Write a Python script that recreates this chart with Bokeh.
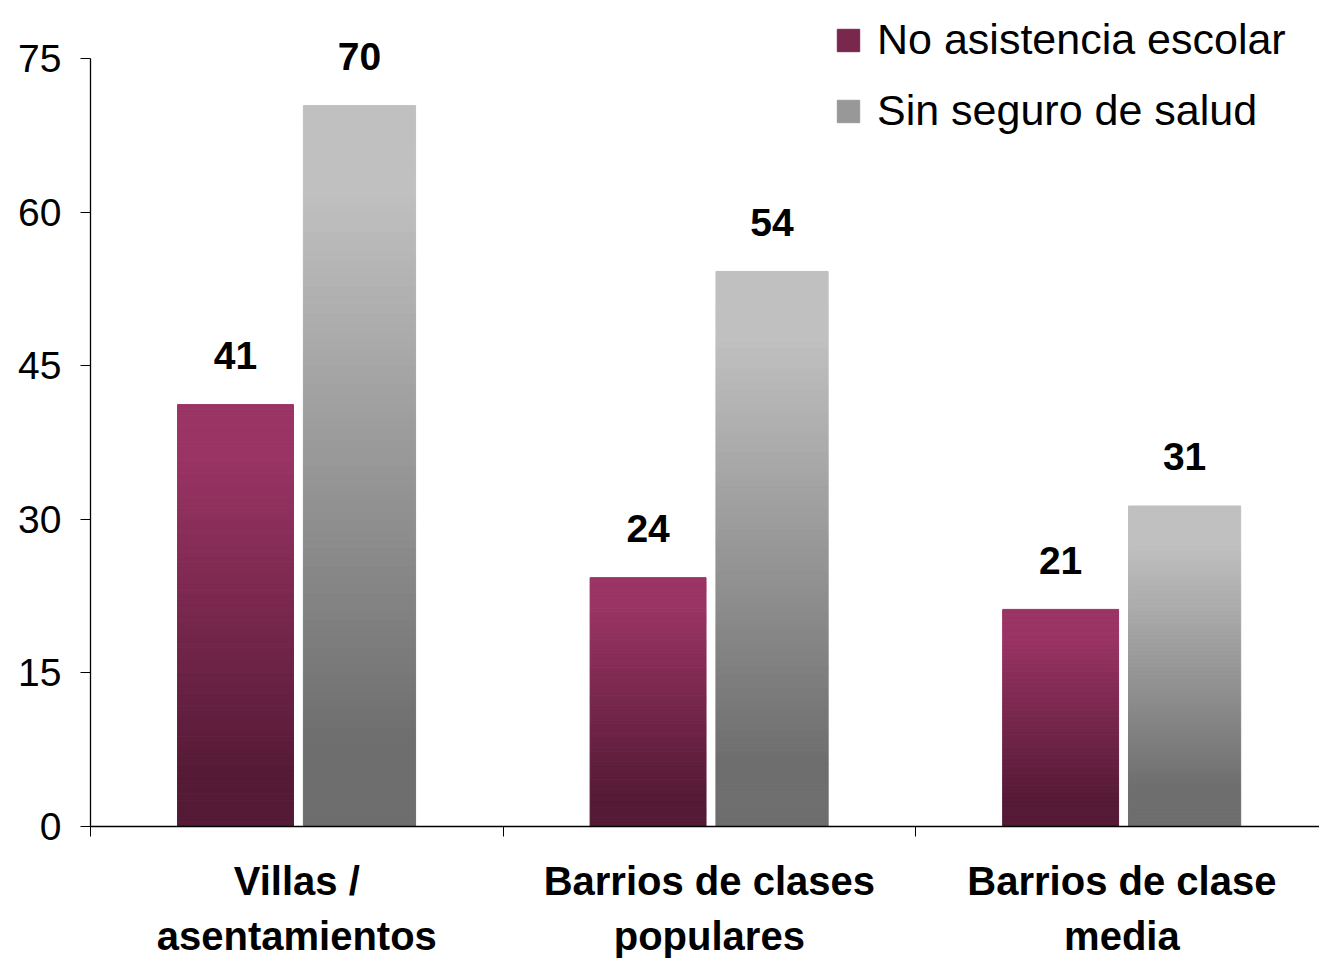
from bokeh.plotting import figure
from bokeh.models import (ColumnDataSource, Range1d, LinearAxis, FixedTicker,
                          Legend, LegendItem)
from bokeh.core.properties import value
from bokeh.embed import file_html
from bokeh.resources import INLINE

# ---------------- data ----------------
cat_line1 = ["Villas /", "Barrios de clases", "Barrios de clase"]
cat_line2 = ["asentamientos", "populares", "media"]
series_names = ["No asistencia escolar", "Sin seguro de salud"]
no_asistencia = [41.2, 24.3, 21.2]
sin_seguro = [70.4, 54.2, 31.3]
y_ticks = [0, 15, 30, 45, 60, 75]

# ---------------- styles ----------------
FONT = "Liberation Sans"
purple_top, purple_bot = (0x9A, 0x34, 0x64), (0x55, 0x1A, 0x36)
gray_top, gray_bot = (0xC0, 0xC0, 0xC0), (0x6E, 0x6E, 0x6E)
K = 80
bar_widths = [0.281, 0.272]
offsets = [-0.1485, 0.152]
n = len(cat_line1)

def mix(c0, c1, t):
    return "#%02x%02x%02x" % tuple(int(round(a + (b - a) * t)) for a, b in zip(c0, c1))

def grad_t(frac):
    t = (frac - 0.12) / (0.88 - 0.12)
    return min(1.0, max(0.0, t))

p = figure(width=1319, height=974, output_backend="svg", toolbar_location=None,
           x_range=Range1d(0, 2.979), y_range=Range1d(0, 80.66),
           min_border_left=90, min_border_right=0, min_border_top=0, min_border_bottom=148,
           x_axis_type=None, y_axis_type=None)
p.outline_line_color = None
p.xgrid.visible = False
p.ygrid.visible = False
p.background_fill_color = "white"
p.border_fill_color = "white"

renderers = []
for s, (vals, ctop, cbot) in enumerate([(no_asistencia, purple_top, purple_bot),
                                         (sin_seguro, gray_top, gray_bot)]):
    xs, bottoms, tops, colors = [], [], [], []
    for i, v in enumerate(vals):
        for k in range(K):
            xs.append(i + 0.5 + offsets[s])
            bottoms.append(v * k / K)
            tops.append(v * (k + 1) / K)
            colors.append(mix(cbot, ctop, grad_t((k + 0.5) / K)))
    src = ColumnDataSource(dict(x=xs, bottom=bottoms, top=tops, color=colors))
    r = p.vbar(x="x", bottom="bottom", top="top", width=bar_widths[s], source=src,
               fill_color="color", line_color="color", line_width=1)
    renderers.append(r)

    lab = ColumnDataSource(dict(x=[i + 0.5 + offsets[s] for i in range(len(vals))],
                                y=vals, t=["%.0f" % v for v in vals]))
    p.text(x="x", y="y", text="t", source=lab, text_align="center",
           text_baseline="alphabetic", y_offset=-49,
           text_font=value(FONT), text_font_style="bold", text_font_size="39px",
           text_color="black")

# y axis
yax = LinearAxis(bounds=(0, 75), ticker=FixedTicker(ticks=y_ticks))
yax.axis_line_color = "black"
yax.axis_line_width = 1.3
yax.major_tick_line_color = "black"
yax.major_tick_out = 10
yax.major_tick_in = 0
yax.minor_tick_line_color = None
yax.major_label_standoff = 19
yax.major_label_text_font = FONT
yax.major_label_text_font_size = "39px"
yax.major_label_text_color = "black"
p.add_layout(yax, "left")

# x axis: boundary ticks as minor ticks, first label line at group centres
xax = LinearAxis(ticker=FixedTicker(ticks=[i + 0.5 for i in range(n)],
                                    minor_ticks=[i for i in range(n)]),
                 major_label_overrides={i + 0.5: t for i, t in enumerate(cat_line1)})
xax.axis_line_color = "black"
xax.axis_line_width = 1.3
xax.major_tick_line_color = None
xax.major_tick_out = 0
xax.major_tick_in = 0
xax.minor_tick_line_color = "black"
xax.minor_tick_out = 10
xax.minor_tick_in = 0
xax.major_label_standoff = 22
xax.major_label_text_font = FONT
xax.major_label_text_font_style = "bold"
xax.major_label_text_font_size = "40px"
xax.major_label_text_color = "black"
p.add_layout(xax, "below")

ax2 = LinearAxis(ticker=FixedTicker(ticks=[i + 0.5 for i in range(n)]),
                 major_label_overrides={i + 0.5: t for i, t in enumerate(cat_line2)})
ax2.axis_line_color = None
ax2.major_tick_line_color = None
ax2.minor_tick_line_color = None
ax2.major_tick_out = 0
ax2.major_tick_in = 0
ax2.major_label_standoff = 8
ax2.major_label_text_font = FONT
ax2.major_label_text_font_style = "bold"
ax2.major_label_text_font_size = "40px"
ax2.major_label_text_color = "black"
p.add_layout(ax2, "below")

legend = Legend(items=[LegendItem(label=series_names[0], renderers=[renderers[0]], index=K // 2),
                       LegendItem(label=series_names[1], renderers=[renderers[1]], index=K // 2)],
                location=(744, 691), orientation="vertical")
legend.label_text_font = FONT
legend.label_text_font_size = "43px"
legend.label_text_color = "black"
legend.glyph_width = 28
legend.glyph_height = 28
legend.label_standoff = 15
legend.spacing = 22
legend.padding = 0
legend.margin = 0
legend.border_line_color = None
legend.background_fill_alpha = 0
p.add_layout(legend)

open("out.html", "w").write(file_html(p, INLINE))
